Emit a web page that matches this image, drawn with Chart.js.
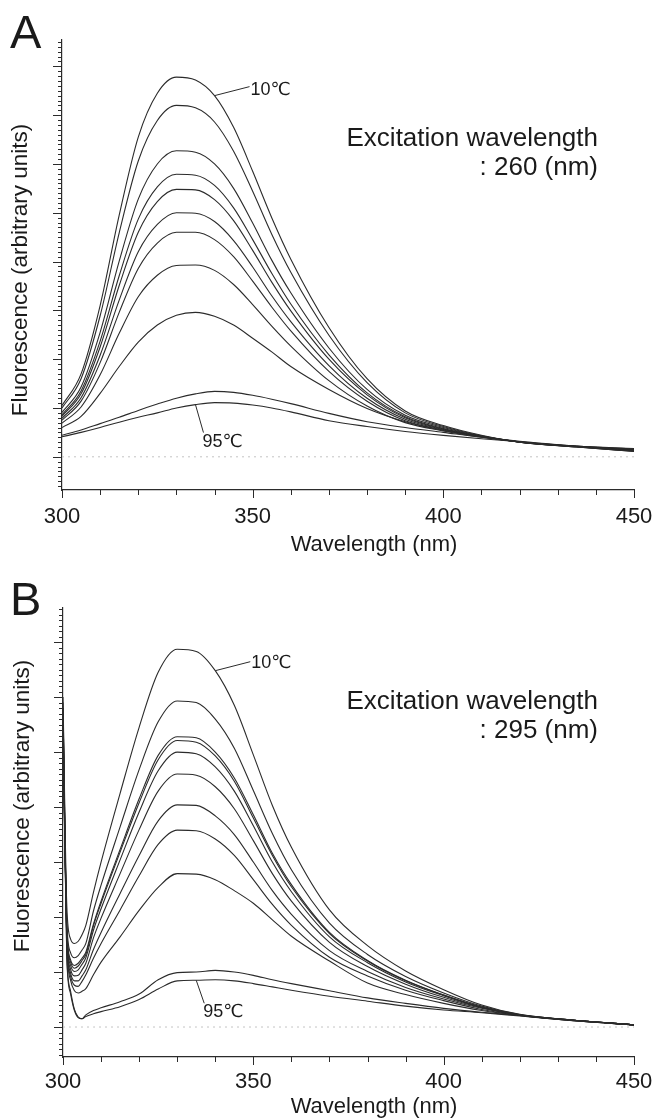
<!DOCTYPE html>
<html>
<head>
<meta charset="utf-8">
<script src="https://cdn.jsdelivr.net/npm/chart.js@4.4.1/dist/chart.umd.min.js"></script>
<style>
  html, body { margin: 0; padding: 0; background: #fff; }
  canvas { display: block; }
</style>
</head>
<body>
<canvas id="chartA" width="657" height="560"></canvas>
<canvas id="chartB" width="657" height="558"></canvas>
<script>
// wavelengths (nm)
const wlA = [300, 305, 310, 315, 320, 325, 330, 335, 340, 345, 350, 355, 360, 370, 380, 390, 400, 410, 420, 435, 450];
const wlB = [300, 301, 302, 303, 304, 305, 306, 308, 310, 315, 320, 325, 330, 335, 340, 345, 350, 355, 360, 370, 380, 390, 400, 410, 420, 435, 450];
const xTicks = [300, 350, 400, 450];

// panel A, excitation 260 nm (top curve 10℃ ... bottom curve 95℃)
const a1  = [10.5, 17, 31, 49.5, 65.5, 74.5, 77.8, 77.2, 74, 67.5, 58.5, 49, 40.5, 26.5, 16, 9.4, 6.4, 4.4, 3.0, 2.0, 1.1];
const a2  = [10.0, 16.0, 28.9, 45.9, 60.6, 68.9, 72.0, 71.5, 68.6, 62.6, 54.4, 45.6, 37.8, 24.9, 15.2, 9.0, 6.2, 4.3, 3.0, 2.0, 1.15];
const a3  = [9.1, 14.3, 25.5, 40.1, 52.8, 60.0, 62.7, 62.4, 60.0, 55.0, 47.9, 40.3, 33.6, 22.3, 13.8, 8.5, 6.0, 4.2, 3.0, 2.05, 1.2];
const a4  = [8.6, 13.5, 23.7, 37.1, 48.7, 55.3, 57.9, 57.7, 55.6, 51.0, 44.5, 37.6, 31.3, 20.9, 13.1, 8.2, 5.8, 4.2, 3.0, 2.05, 1.25];
const a5  = [8.3, 12.9, 22.5, 35.1, 46.0, 52.3, 54.8, 54.7, 52.7, 48.4, 42.3, 35.8, 29.9, 20.0, 12.7, 8.0, 5.7, 4.2, 3.05, 2.1, 1.3];
const a6  = [7.9, 12.1, 20.8, 32.1, 42.0, 47.6, 50.0, 49.9, 48.2, 44.3, 38.9, 33.0, 27.7, 18.7, 12.0, 7.7, 5.6, 4.1, 3.05, 2.1, 1.35];
const a7  = [7.5, 11.4, 19.3, 29.6, 38.6, 43.8, 46.0, 46.0, 44.5, 41.0, 36.0, 30.7, 25.8, 17.5, 11.4, 7.4, 5.5, 4.1, 3.05, 2.1, 1.4];
const a8  = [6.9, 10.2, 16.8, 25.3, 32.8, 37.2, 39.2, 39.3, 38.2, 35.3, 31.2, 26.8, 22.7, 15.6, 10.4, 7.0, 5.3, 4.0, 3.05, 2.1, 1.45];
const a9  = [6.0, 8.3, 13.0, 18.5, 23.5, 27.0, 29.0, 29.6, 28.8, 27.0, 24.3, 21.5, 18.5, 13.8, 9.9, 7.2, 5.4, 4.2, 3.1, 2.15, 1.5];
const a10 = [4.4, 5.5, 6.8, 8.1, 9.5, 10.8, 12.0, 12.9, 13.4, 13.2, 12.6, 11.8, 10.9, 8.9, 7.2, 6.0, 5.0, 4.0, 3.2, 2.2, 1.6];
const a11 = [4.1, 5.0, 6.0, 7.1, 8.1, 9.0, 10.0, 10.7, 11.1, 11.0, 10.6, 10.0, 9.2, 7.4, 6.2, 5.2, 4.4, 3.7, 3.1, 2.2, 1.7];

// panel B, excitation 295 nm
const b1  = [60, 22, 16, 15.2, 15.6, 16.8, 18.5, 24.5, 30, 42.5, 54.5, 64.5, 68.7, 68.3, 64.8, 58.5, 49.5, 40.3, 32.7, 21.3, 14.8, 10.2, 6.8, 4.0, 2.3, 1.2, 0.4];
const b2  = [59, 19, 13.5, 12.6, 13.0, 14.0, 15.2, 21.1, 25.8, 36.4, 46.8, 55.5, 59.3, 59.0, 56.0, 50.7, 43.0, 35.2, 28.6, 18.9, 13.2, 9.2, 6.2, 3.8, 2.25, 1.2, 0.4];
const b3  = [58, 18, 12.2, 11.2, 11.6, 12.5, 13.6, 18.7, 22.9, 32.3, 41.5, 49.4, 52.8, 52.6, 50.0, 45.3, 38.6, 31.6, 25.9, 17.2, 12.1, 8.5, 5.8, 3.6, 2.2, 1.2, 0.4];
const b4  = [58, 17.5, 11.8, 10.7, 11.1, 12.1, 13.2, 18.4, 22.5, 31.8, 40.8, 48.6, 52.1, 51.8, 49.3, 44.7, 38.0, 31.2, 25.5, 17.0, 12.0, 8.4, 5.8, 3.6, 2.2, 1.2, 0.4];
const b5  = [57, 17, 11.2, 10.1, 10.4, 11.4, 12.6, 17.6, 21.5, 30.4, 39.1, 46.6, 50.0, 49.7, 47.3, 42.9, 36.6, 30.0, 24.6, 16.4, 11.7, 8.2, 5.7, 3.6, 2.2, 1.2, 0.4];
const b6  = [57, 16.5, 10.5, 9.3, 9.4, 10.4, 11.6, 16.2, 19.8, 27.9, 35.9, 42.9, 46.0, 45.8, 43.7, 39.7, 33.9, 27.9, 22.9, 15.4, 11.0, 7.8, 5.4, 3.5, 2.2, 1.2, 0.4];
const b7  = [56, 16, 9.8, 8.4, 8.4, 9.3, 10.4, 14.1, 17.2, 24.3, 31.2, 37.5, 40.4, 40.3, 38.4, 35.0, 30.0, 24.8, 20.5, 13.9, 10.1, 7.2, 5.1, 3.4, 2.15, 1.15, 0.4];
const b8  = [56, 15.5, 9.2, 7.6, 7.4, 8.3, 9.5, 12.5, 15.2, 21.3, 27.5, 33.2, 35.8, 35.7, 34.2, 31.2, 26.8, 22.3, 18.5, 12.7, 9.3, 6.7, 4.8, 3.2, 2.1, 1.1, 0.4];
const b9  = [55, 15, 8.5, 6.6, 6.2, 6.5, 7.0, 9.5, 11.8, 16.4, 21.2, 25.4, 27.9, 27.8, 26.8, 24.8, 22.5, 19.5, 16.5, 12.0, 8.0, 5.9, 4.3, 3.0, 2.1, 1.1, 0.4];
const b10 = [55, 13, 6.5, 3.2, 1.8, 1.5, 2.2, 3.0, 3.5, 4.6, 6.0, 8.6, 9.9, 10.0, 10.3, 10.0, 9.4, 8.6, 7.9, 6.6, 5.3, 4.3, 3.4, 2.7, 2.1, 1.2, 0.4];
const b11 = [55, 12.5, 6.0, 3.0, 1.7, 1.5, 1.9, 2.4, 2.8, 3.7, 5.0, 6.9, 8.4, 8.5, 8.6, 8.4, 7.9, 7.3, 6.7, 5.6, 4.7, 3.8, 3.1, 2.6, 2.0, 1.1, 0.4];

const seriesA = [a1, a2, a3, a4, a5, a6, a7, a8, a9, a10, a11];
const seriesB = [b1, b2, b3, b4, b5, b6, b7, b8, b9, b10, b11];

const family = '"Liberation Sans", Arial, "DejaVu Sans", sans-serif';
const ink = '#2b2b2b';

// axis ticks, panel letter, notes and callouts
const panelDecor = {
  id: 'panelDecor',
  afterDraw(chart, args, o) {
    const { ctx, chartArea: area, scales: { x, y } } = chart;
    ctx.save();
    ctx.strokeStyle = ink;
    ctx.fillStyle = '#1a1a1a';
    ctx.lineWidth = 1;

    for (let v = Math.ceil(y.min); v <= Math.floor(y.max); v++) {
      const py = Math.round(y.getPixelForValue(v)) + 0.5;
      const len = v % 10 === 0 ? 9 : 4;
      ctx.beginPath();
      ctx.moveTo(area.left - len, py);
      ctx.lineTo(area.left, py);
      ctx.stroke();
    }
    for (let v = x.min; v <= x.max; v += 10) {
      const px = Math.round(x.getPixelForValue(v)) + 0.5;
      const len = v % 50 === 0 ? 8 : 5;
      ctx.beginPath();
      ctx.moveTo(px, area.bottom);
      ctx.lineTo(px, area.bottom + len);
      ctx.stroke();
    }

    ctx.font = '18px ' + family;
    o.callouts.forEach(c => {
      const pt = chart.getDatasetMeta(c.dataset).data[c.index];
      const ex = pt.x + c.dx, ey = pt.y + c.dy;
      ctx.beginPath();
      ctx.moveTo(pt.x, pt.y);
      ctx.lineTo(ex, ey);
      ctx.stroke();
      ctx.fillText(c.text, ex + c.tx, ey + c.ty);
    });

    ctx.font = '47px ' + family;
    ctx.fillText(o.letter.text, o.letter.x, o.letter.y);

    ctx.font = '26px ' + family;
    ctx.textAlign = 'right';
    o.note.lines.forEach((t, i) => ctx.fillText(t, o.note.x, o.note.y + i * 29));

    ctx.font = '22px ' + family;
    ctx.textAlign = 'center';
    ctx.fillText(o.xTitle.text, o.xTitle.x, o.xTitle.y);

    ctx.font = '22.5px ' + family;
    ctx.translate(o.yTitle.x, o.yTitle.y);
    ctx.rotate(-Math.PI / 2);
    ctx.textBaseline = 'middle';
    ctx.fillText(o.yTitle.text, 0, 0);
    ctx.restore();
  }
};

function makeChart(id, wl, series, cfg) {
  const datasets = series.map((s, i) => ({
    label: i === 0 ? '10℃' : (i === series.length - 1 ? '95℃' : 'curve ' + (i + 1)),
    data: wl.map((w, j) => ({ x: w, y: s[j] })),
    borderColor: ink,
    borderWidth: 1.1,
    pointRadius: 0,
    fill: false,
    cubicInterpolationMode: 'monotone'
  }));
  datasets.push({
    label: 'baseline',
    data: wl.map(w => ({ x: w, y: 0 })),
    borderColor: '#c4c4c4',
    borderWidth: 1,
    borderDash: [2, 4],
    pointRadius: 0,
    fill: false
  });

  const iTop = wl.indexOf(340);
  const iLow = wl.indexOf(335);

  return new Chart(document.getElementById(id), {
    type: 'line',
    data: { datasets },
    options: {
      responsive: false,
      animation: false,
      devicePixelRatio: 1,
      layout: { padding: { left: 0, top: cfg.top, right: 23, bottom: 0 } },
      plugins: {
        legend: { display: false },
        tooltip: { enabled: false },
        panelDecor: {
          letter: { text: cfg.letter, x: 10, y: cfg.letterY },
          note: { lines: ['Excitation wavelength', cfg.excitation], x: 598, y: cfg.noteY },
          xTitle: { text: 'Wavelength (nm)', x: 374, y: cfg.xTitleY },
          yTitle: { text: 'Fluorescence (arbitrary units)', x: cfg.yTitleX, y: cfg.yTitleY },
          callouts: [
            { text: '10℃', dataset: 0, index: iTop, dx: 35, dy: -9, tx: 1, ty: cfg.topTy },
            { text: '95℃', dataset: series.length - 1, index: iLow, dx: 8, dy: cfg.lowDy, tx: -1, ty: 14 }
          ]
        }
      },
      scales: {
        x: {
          type: 'linear',
          min: 300,
          max: 450,
          afterFit: s => {
            s.height = cfg.xHeight;
            s.paddingLeft = 0;
            s.paddingRight = 0;
          },
          grid: { display: false, drawTicks: false },
          border: { display: true, color: ink, width: 1.2 },
          ticks: {
            stepSize: 10,
            autoSkip: false,
            maxRotation: 0,
            padding: cfg.tickPad,
            color: '#1a1a1a',
            font: { family, size: 22 },
            callback: v => xTicks.includes(v) ? String(v) : ''
          }
        },
        y: {
          min: cfg.yMin,
          max: cfg.yMax,
          afterFit: s => { s.width = cfg.yWidth; },
          grid: { display: false, drawTicks: false },
          border: { display: true, color: ink, width: 1.2 },
          ticks: { display: false }
        }
      }
    },
    plugins: [panelDecor]
  });
}

makeChart('chartA', wlA, seriesA, {
  letter: 'A', letterY: 48, excitation: ': 260 (nm)', noteY: 146,
  top: 40, xHeight: 70, yWidth: 62, yMin: -6.8, yMax: 85.4, tickPad: 14,
  xTitleY: 551, yTitleX: 21, yTitleY: 270, topTy: 8, lowDy: 28
});

makeChart('chartB', wlB, seriesB, {
  letter: 'B', letterY: 55, excitation: ': 295 (nm)', noteY: 149,
  top: 48, xHeight: 61, yWidth: 63, yMin: -5.45, yMax: 76.2, tickPad: 12,
  xTitleY: 553, yTitleX: 23, yTitleY: 246, topTy: 6, lowDy: 23
});
</script>
</body>
</html>
